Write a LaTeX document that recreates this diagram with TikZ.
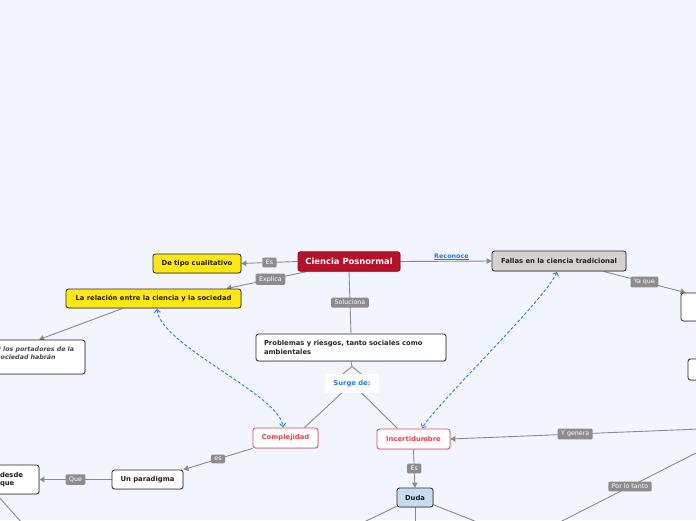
\documentclass[tikz,border=0pt]{standalone}
\usepackage{fontspec}
\setmainfont{DejaVu Sans}
\usetikzlibrary{arrows.meta,shadows,calc,backgrounds}
\definecolor{bg}{HTML}{F2F5FE}
\definecolor{cred}{HTML}{B5112B}
\definecolor{cyel}{HTML}{FFE716}
\definecolor{cfal}{HTML}{D7D2CF}
\definecolor{cduda}{HTML}{C4DDF1}
\definecolor{cline}{HTML}{2E2626}
\definecolor{conngray}{HTML}{8A8A8A}
\definecolor{lblgray}{HTML}{8C8C8C}
\definecolor{cblue}{HTML}{1F80E0}
\definecolor{rline}{HTML}{E8434F}
\definecolor{ctext}{HTML}{1E1E1E}
\begin{document}
\begin{tikzpicture}[x=1pt,y=-1pt,
  box/.style={draw=cline, line width=0.8pt, rounded corners=2.5pt, fill=white,
    font=\fontsize{6.8}{8.6}\selectfont\bfseries, text=ctext, inner sep=0pt,
    minimum height=19pt, drop shadow={opacity=0.25, shadow xshift=0.8pt, shadow yshift=-0.8pt}},
  redbox/.style={box, draw=rline, text=rline},
  lbl/.style={fill=lblgray, text=white, font=\fontsize{6.3}{7}\selectfont,
    rounded corners=1.2pt, inner xsep=3.5pt, inner ysep=2.5pt},
  conn/.style={draw=conngray, line width=0.9pt},
  arr/.style={conn, -{Triangle[length=5pt,width=5.5pt]}},
  bluedash/.style={draw=cblue, line width=0.9pt, dash pattern=on 3pt off 2pt,
    {Straight Barb[length=3pt,width=6pt]}-{Straight Barb[length=3pt,width=6pt]}}
]
\begin{pgfonlayer}{background}
\fill[bg] (0,0) rectangle (696,520);
\end{pgfonlayer}
\useasboundingbox (0,0) rectangle (696,520);

% nodes
\node[box, fill=cred, draw=cred!75!black, text=white, font=\fontsize{8.4}{10}\selectfont\bfseries,
  minimum width=102pt, minimum height=19.5pt] (cp) at (349,261.5) {Ciencia Posnormal};
\node[box, fill=cyel, minimum width=88pt] (dtc) at (197,263.5) {De tipo cualitativo};
\node[box, fill=cyel, minimum width=175pt] (rel) at (153.5,298.5) {La relación entre la ciencia y la sociedad};
\node[box, fill=cfal, minimum width=134pt, minimum height=20pt] (fal) at (559,261) {Fallas en la ciencia tradicional};
\node[box, minimum width=78pt, minimum height=28pt] (rt1) at (720,307) {};
\node[box, minimum width=72pt, minimum height=21pt] (rt2) at (724,369.5) {};
\node[box, minimum width=96pt, minimum height=34pt, text width=80pt, inner xsep=0pt, align=left,
  font=\fontsize{6.3}{8.3}\selectfont\bfseries\itshape, text=black!72] (por) at (37,357)
  {y los portadores de la\\sociedad habrán\\\mbox{}};
\node[box, minimum width=190pt, minimum height=27pt, text width=174pt, align=left, inner xsep=8pt,
  text=cline] (prob) at (351,347.5) {Problemas y riesgos, tanto sociales como\\ambientales};
\node[fill=white, minimum width=54pt, minimum height=19pt, inner sep=0pt, text=cblue,
  font=\fontsize{6.8}{8}\selectfont\bfseries] (surge) at (352,383.5) {Surge de:};
\node[redbox, minimum width=65pt, minimum height=20pt] (comp) at (285.5,438) {Complejidad};
\node[redbox, minimum width=73pt, minimum height=20pt] (inc) at (413.5,439) {Incertidumbre};
\node[box, fill=cduda, minimum width=36pt] (duda) at (415,497.5) {Duda};
\node[box, minimum width=71pt] (par) at (147.5,479.5) {Un paradigma};
\node[box, minimum width=45pt, minimum height=29pt, text width=33pt, inner xsep=6pt, align=left] (lft) at (16.5,479.5) {desde\\que};

% free ends
\coordinate (yg) at (700,429);
\coordinate (plt1) at (700,451);
\coordinate (plt2) at (560,522);
\coordinate (d1) at (364,522);
\coordinate (d2) at (415,522);
\coordinate (d3) at (477,522);
\coordinate (lb) at (22,523);
\coordinate (jn) at (352,366.5);

\begin{pgfonlayer}{background}
\draw[arr] (cp.west) -- node[lbl]{Es} (dtc.east);
\draw[arr] ($(cp.south west)+(9,0)$) -- node[lbl, pos=0.45]{Explica} ($(rel.north east)+(-15,0)$);
\draw[arr] (cp.east) -- node[above=-0.5pt, pos=0.56, text=cblue, font=\fontsize{6.4}{7}\selectfont\bfseries, inner sep=1pt]{\underline{Reconoce}} (fal.west);
\draw[arr] ($(fal.south east)+(-23,0)$) -- node[lbl]{Ya que} ($(rt1.north west)+(5,0)$);
\draw[conn] (cp.south) -- node[lbl]{Soluciona} (prob.north);
\draw[arr] ($(rel.south west)+(57,0)$) -- ($(por.north)+(2,0)$);
\draw[conn] (prob.south) -- (jn) -- ($(surge.north)+(-9,0)$);
\draw[conn] (jn) -- ($(surge.north)+(9,0)$);
\draw[conn] (surge.center) -- ($(comp.north east)+(-14,0)$);
\draw[conn] (surge.center) -- ($(inc.north west)+(21,0)$);
\draw[arr] (yg) -- node[lbl, pos=0.5]{Y genera} (inc.east);
\draw[conn] (plt1) -- node[lbl, pos=0.5]{Por lo tanto} (plt2);
\draw[arr] (inc.south) -- node[lbl]{Es} (duda.north);
\draw[conn] (duda) -- (d1);
\draw[conn] (duda.south) -- (d2);
\draw[conn] (duda) -- (d3);
\draw[arr] (comp.south west) -- node[lbl]{es} (par.north east);
\draw[arr] (par.west) -- node[lbl]{Que} (lft.east);
\draw[conn] ($(lft.south west)+(3,0)$) -- (lb);
\end{pgfonlayer}

\draw[bluedash] ($(rel.south)+(3.5,0.5)$) .. controls (160,345) and (280,395) .. ($(comp.north)+(-2.5,-0.5)$);
\draw[bluedash] ($(fal.south)+(-2,0.5)$) .. controls (545,300) and (440,400) .. ($(inc.north)+(8.5,-0.5)$);
\end{tikzpicture}
\end{document}
